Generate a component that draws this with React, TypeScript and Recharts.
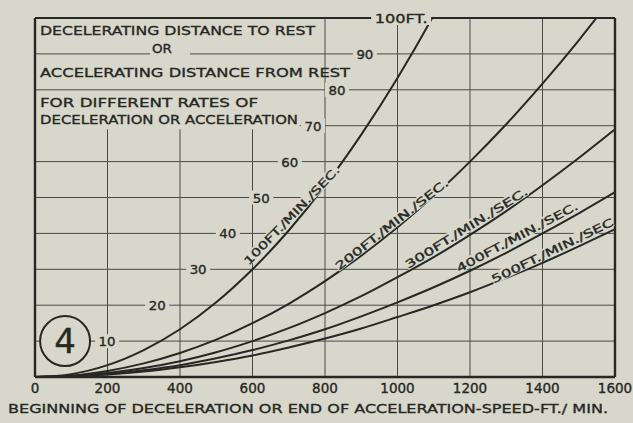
import { LineChart, Line, XAxis, YAxis, ReferenceLine, ReferenceDot } from "recharts";

// speed in ft/min, distance in ft, one array per rate of deceleration
const speeds = [0, 100, 200, 300, 400, 500, 600, 700, 800, 900, 1000, 1100, 1200, 1300, 1400, 1500, 1600];
const rate100 = [0, 0.8, 3.3, 7.5, 13.3, 20.8, 30, 40.8, 53.3, 67.5, 83.3, 100.8, 120, null, null, null, null];
const rate200 = [0, 0.4, 1.7, 3.8, 6.7, 10.4, 15, 20.4, 26.7, 33.8, 41.7, 50.4, 60, 70.4, 81.7, 93.8, 106.7];
const rate300 = [0, 0.3, 1.1, 2.5, 4.4, 6.9, 10, 13.6, 17.8, 22.5, 27.8, 33.4, 39.6, 46.2, 53.4, 61, 69];
const rate400 = [0, 0.2, 0.8, 1.9, 3.3, 5.2, 7.5, 10.2, 13.3, 16.9, 20.8, 25, 29.6, 34.6, 40, 45.6, 51.5];
const rate500 = [0, 0.2, 0.7, 1.5, 2.7, 4.2, 6, 8.2, 10.7, 13.5, 16.7, 20, 23.6, 27.6, 31.8, 36.4, 41.2];

const xTicks = [0, 200, 400, 600, 800, 1000, 1200, 1400, 1600];
const yTickValues = [10, 20, 30, 40, 50, 60, 70, 80, 90, 100];
const yTickLabels = ["10", "20", "30", "40", "50", "60", "70", "80", "90", "100FT."];
const rateKeys = ["r100", "r200", "r300", "r400", "r500"];
const rateLabels = ["100FT./MIN./SEC.", "200FT./MIN./SEC.", "300FT./MIN./SEC.", "400FT./MIN./SEC.", "500FT./MIN./SEC"];

const data = speeds.map((s, i) => ({
  speed: s,
  r100: rate100[i],
  r200: rate200[i],
  r300: rate300[i],
  r400: rate400[i],
  r500: rate500[i],
}));

const bg = "#d8d7cb";
const ink = "#272723";
const gridInk = "#4a4a44";
const font = "DejaVu Sans";
const txtStyle = { fontFamily: font, fill: ink, stroke: ink, strokeWidth: 0.35 };

// where the y labels sit along the diagonal (in speed units)
const yLabelSpeeds = [199, 337, 450, 532, 624, 703, 767, 833, 910, 1010];
// curve label anchors: [speed, distance, angle, length]
const curveLabelPos = [
  [708, 45, -46, 132],
  [984, 42.5, -38, 140],
  [1190, 41.5, -32, 142],
  [1330, 39, -28, 136],
  [1427, 35.2, -26, 134],
];

const XTick = ({ x, y, payload }: any) => (
  <text x={x} y={y + 16} textAnchor="middle" fontSize={13.5} {...txtStyle}>
    {payload.value}
  </text>
);

const YLabel = (label: string) => (p: any) => {
  const w = label.length > 3 ? 56 : 20;
  const tl = label.length > 3 ? 53 : 17;
  return (
    <g>
      <rect x={p.cx - w / 2 - 2} y={p.cy - 7} width={w + 4} height={14} fill={bg} />
      <text x={p.cx} y={p.cy + 5} textAnchor="middle" fontSize={13} {...txtStyle}
        textLength={tl} lengthAdjust="spacingAndGlyphs">
        {label}
      </text>
    </g>
  );
};

const CurveLabel = (label: string, angle: number, len: number) => (p: any) => (
  <g transform={`rotate(${angle} ${p.cx} ${p.cy})`}>
    <rect x={p.cx - len / 2} y={p.cy - 6} width={len} height={11} fill={bg} />
    <text x={p.cx} y={p.cy + 4} textAnchor="middle" fontSize={11} {...txtStyle}
      textLength={len} lengthAdjust="spacingAndGlyphs">
      {label}
    </text>
  </g>
);

const TitleBlock = (p: any) => {
  const x = p.cx + 5;
  const t = p.cy;
  const txt = (s: string, dx: number, dy: number, len: number) => (
    <text x={x + dx} y={t + dy} fontSize={13} {...txtStyle} textLength={len} lengthAdjust="spacingAndGlyphs">
      {s}
    </text>
  );
  return (
    <g>
      <rect x={x + 110} y={t + 26} width={40} height={14} fill={bg} />
      {txt("DECELERATING DISTANCE TO REST", 0, 17, 275)}
      {txt("OR", 112, 35, 20)}
      {txt("ACCELERATING DISTANCE FROM REST", 0, 59, 310)}
      {txt("FOR DIFFERENT RATES OF", 0, 89, 218)}
      {txt("DECELERATION OR ACCELERATION", 0, 106, 258)}
    </g>
  );
};

const CircleFour = (p: any) => (
  <g>
    <circle cx={p.cx} cy={p.cy} r={25} fill={bg} stroke={ink} strokeWidth={2} />
    <text x={p.cx} y={p.cy + 12} textAnchor="middle" fontSize={34} {...txtStyle}>4</text>
  </g>
);

const XCaption = (props: any) => {
  const vb = props.viewBox || {};
  return (
    <text x={8} y={(vb.y ?? 377) + 36} fontSize={13} {...txtStyle}
      textLength={600} lengthAdjust="spacingAndGlyphs">
      BEGINNING OF DECELERATION OR END OF ACCELERATION-SPEED-FT./ MIN.
    </text>
  );
};

export default function App() {
  return (
    <div style={{ position: "absolute", left: 0, top: 0, width: 633, height: 423, background: bg }}>
      <LineChart width={633} height={423} data={data} margin={{ top: 18, right: 18, bottom: 0, left: 35 }}>
        <XAxis dataKey="speed" type="number" domain={[0, 1600]} ticks={xTicks} interval={0}
          allowDataOverflow axisLine={false} tickLine={false} tickSize={0} tickMargin={0}
          height={46} tick={XTick} label={XCaption} />
        <YAxis hide type="number" domain={[0, 100]} allowDataOverflow />

        {/* vertical grid, cut under the title */}
        {xTicks.slice(1, 4).map((v) => (
          <ReferenceLine key={"vs" + v} segment={[{ x: v, y: 0 }, { x: v, y: 69 }]} stroke={gridInk} strokeWidth={1} />
        ))}
        {xTicks.slice(4, 8).map((v) => (
          <ReferenceLine key={"v" + v} x={v} stroke={gridInk} strokeWidth={1} />
        ))}
        {yTickValues.slice(0, 6).map((v) => (
          <ReferenceLine key={"h" + v} y={v} stroke={gridInk} strokeWidth={1} />
        ))}
        <ReferenceLine segment={[{ x: 730, y: 70 }, { x: 1600, y: 70 }]} stroke={gridInk} strokeWidth={1} />
        <ReferenceLine y={80} stroke={gridInk} strokeWidth={1} />
        <ReferenceLine y={90} stroke={gridInk} strokeWidth={1} />

        {/* frame */}
        <ReferenceLine x={0} stroke={ink} strokeWidth={2.4} />
        <ReferenceLine x={1600} stroke={ink} strokeWidth={2.4} />
        <ReferenceLine y={0} stroke={ink} strokeWidth={2.4} />
        <ReferenceLine y={100} stroke={ink} strokeWidth={2} />

        {rateKeys.map((k) => (
          <Line key={k} dataKey={k} type="monotone" stroke={ink} strokeWidth={2} dot={false}
            activeDot={false} isAnimationActive={false} />
        ))}

        <ReferenceDot x={0} y={100} r={1} shape={TitleBlock} />
        {yTickValues.map((v, i) => (
          <ReferenceDot key={"yl" + v} x={yLabelSpeeds[i]} y={v} r={1} shape={YLabel(yTickLabels[i])} />
        ))}
        {rateLabels.map((l, i) => (
          <ReferenceDot key={"cl" + i} x={curveLabelPos[i][0]} y={curveLabelPos[i][1]} r={1}
            shape={CurveLabel(l, curveLabelPos[i][2], curveLabelPos[i][3])} />
        ))}
        <ReferenceDot x={83} y={10} r={1} shape={CircleFour} />
      </LineChart>
    </div>
  );
}
